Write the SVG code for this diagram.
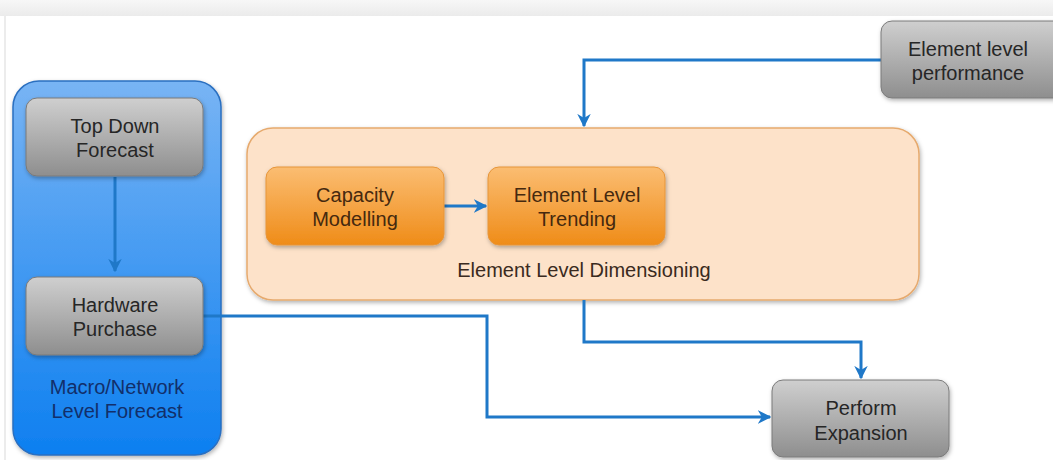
<svg xmlns="http://www.w3.org/2000/svg" width="1053" height="460" viewBox="0 0 1053 460">
  <defs>
    <linearGradient id="gGray" x1="0" y1="0" x2="0" y2="1">
      <stop offset="0" stop-color="#cfcfcf"/>
      <stop offset="1" stop-color="#8e8e8e"/>
    </linearGradient>
    <linearGradient id="gOrange" x1="0" y1="0" x2="0" y2="1">
      <stop offset="0" stop-color="#fbbd72"/>
      <stop offset="1" stop-color="#ef8c18"/>
    </linearGradient>
    <linearGradient id="gBlue" x1="0" y1="0" x2="0" y2="1">
      <stop offset="0" stop-color="#78b4f4"/>
      <stop offset="1" stop-color="#0d7ff0"/>
    </linearGradient>
    <linearGradient id="gTop" x1="0" y1="0" x2="0" y2="1">
      <stop offset="0" stop-color="#f7f7f7"/>
      <stop offset="1" stop-color="#ebebeb"/>
    </linearGradient>
    <filter id="shadow" x="-10%" y="-10%" width="130%" height="140%">
      <feDropShadow dx="1" dy="2" stdDeviation="2" flood-color="#000" flood-opacity="0.3"/>
    </filter>
    <marker id="arrow" viewBox="0 0 10 10" refX="9" refY="5" markerWidth="4.5" markerHeight="4.5" orient="auto" markerUnits="strokeWidth">
      <path d="M0,0 L10,5 L0,10 L3,5 Z" fill="#1f78c8"/>
    </marker>
  </defs>
  <style>
    text { font-family: "Liberation Sans", Arial, sans-serif; font-size: 20px; text-anchor: middle; }
    .gray rect { fill: url(#gGray); stroke: #7a7a7a; stroke-width: 1; filter: url(#shadow); }
    .gray text { fill: #262626; }
    .orange rect { fill: url(#gOrange); stroke: #e6953a; stroke-width: 1; filter: url(#shadow); }
    .orange text { fill: #45290f; }
    .conn path { fill: none; stroke: #1f78c8; stroke-width: 3; marker-end: url(#arrow); }
  </style>

  <!-- page background -->
  <rect x="0" y="0" width="1053" height="460" fill="#ffffff"/>
  <rect x="0" y="0" width="1053" height="16" fill="url(#gTop)"/>
  <line x1="5" y1="16" x2="5" y2="460" stroke="#ececec" stroke-width="2"/>

  <!-- containers -->
  <g id="macro-network">
    <rect x="13" y="81" width="208" height="374" rx="26" fill="url(#gBlue)" stroke="#2a6fc0" stroke-width="1.5" filter="url(#shadow)"/>
    <text x="117" y="394" fill="#122f6a">Macro/Network</text>
    <text x="117" y="418" fill="#122f6a">Level Forecast</text>
  </g>
  <g id="element-level-dimensioning">
    <rect x="247" y="128" width="672" height="172" rx="26" fill="#fde2c9" stroke="#e6aa6e" stroke-width="1.5" filter="url(#shadow)"/>
    <text x="584" y="277" fill="#3a2a20">Element Level Dimensioning</text>
  </g>

  <!-- connectors -->
  <g class="conn" id="connectors">
    <path d="M115,177 V271"/>
    <path d="M444,206 H486"/>
    <path d="M881,60 H584 V126"/>
    <path d="M584,300 V342 H861 V378"/>
    <path d="M203,316 H487 V417 H770"/>
  </g>

  <!-- nodes -->
  <g id="top-down-forecast" class="gray">
    <rect x="26" y="98" width="177" height="78" rx="11"/>
    <text x="115" y="133">Top Down</text>
    <text x="115" y="157">Forecast</text>
  </g>
  <g id="hardware-purchase" class="gray">
    <rect x="26" y="277" width="177" height="78" rx="11"/>
    <text x="115" y="312">Hardware</text>
    <text x="115" y="336">Purchase</text>
  </g>
  <g id="capacity-modelling" class="orange">
    <rect x="266" y="167" width="178" height="78" rx="11"/>
    <text x="355" y="202">Capacity</text>
    <text x="355" y="226">Modelling</text>
  </g>
  <g id="element-level-trending" class="orange">
    <rect x="488" y="167" width="177" height="78" rx="11"/>
    <text x="577" y="202">Element Level</text>
    <text x="577" y="226">Trending</text>
  </g>
  <g id="element-level-performance" class="gray">
    <rect x="881" y="21" width="185" height="77" rx="11"/>
    <text x="968" y="56">Element level</text>
    <text x="968" y="80">performance</text>
  </g>
  <g id="perform-expansion" class="gray">
    <rect x="772" y="380" width="177" height="77" rx="11"/>
    <text x="861" y="415">Perform</text>
    <text x="861" y="440">Expansion</text>
  </g>
</svg>
